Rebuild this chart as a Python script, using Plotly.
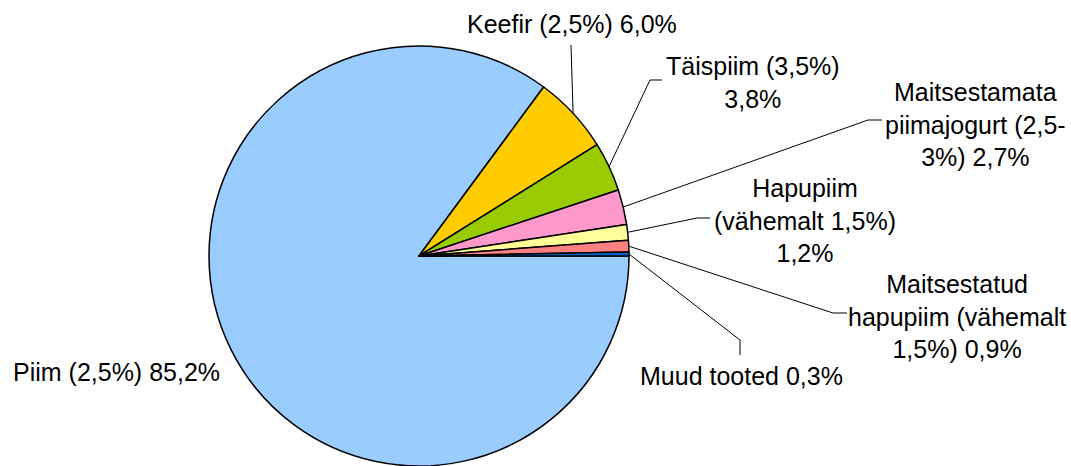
import math
import plotly.graph_objects as go

# piimatoodete jaotus (%)
names = ["Piim (2,5%)", "Keefir (2,5%)", "Täispiim (3,5%)<br>",
         "Maitsestamata<br>piimajogurt (2,5-<br>3%)", "Hapupiim<br>(vähemalt 1,5%)<br>",
         "Maitsestatud<br>hapupiim (vähemalt<br>1,5%)", "Muud tooted"]
values = [85.2, 6.0, 3.8, 2.7, 1.2, 0.9, 0.3]
colors = ["#99CCFF", "#FFCC00", "#99CC00", "#FF99CC", "#FFFF99", "#FF8080", "#0066CC"]

W, H = 1071, 466
cx, cy, r = 419, 256, 210  # pie centre / radius in pixels

# label centres and leader line bends (pixels); None = no leader
label_pos = [(116, 372), (572, 24), (753, 82), (975, 124), (805, 220), (957, 316), (741, 376)]
leader_pts = [None, [(571, 45)], [(650, 80), (662, 80)], [(868, 120), (882, 120)],
              [(697, 218), (710, 218)], [(833, 313), (847, 313)], [(740, 340), (740, 355)]]


def px(x, y):
    return x / W, 1 - y / H


def pct(v):
    return f"{v:.1f}%".replace(".", ",")


fig = go.Figure(go.Pie(
    labels=[n.replace("<br>", " ") for n in names], values=values, sort=False,
    direction="clockwise", rotation=90, textinfo="none", hoverinfo="skip",
    marker=dict(colors=colors, line=dict(color="black", width=1.5)),
    domain=dict(x=[(cx - r) / W, (cx + r) / W], y=[(H - cy - r) / H, (H - cy + r) / H]),
    showlegend=False,
))

total = sum(values)
cum = 0
shapes = []
annotations = []
for i, v in enumerate(values):
    mid = (cum + v / 2) / total
    cum += v
    theta = -2 * math.pi * mid
    ex, ey = cx + r * math.cos(theta), cy - r * math.sin(theta)
    if leader_pts[i]:
        pts = [px(ex, ey)] + [px(a, b) for a, b in leader_pts[i]]
        path = "M " + " L ".join(f"{a},{b}" for a, b in pts)
        shapes.append(dict(type="path", path=path, xref="paper", yref="paper",
                           line=dict(color="black", width=1)))
    sep = "" if names[i].endswith("<br>") else " "
    lx, ly = px(*label_pos[i])
    annotations.append(dict(text=names[i] + sep + pct(v), x=lx, y=ly, xref="paper", yref="paper",
                            xanchor="center", yanchor="middle", showarrow=False, align="center",
                            font=dict(size=25, color="black", family="Liberation Sans, Arial")))

fig.update_layout(width=W, height=H, margin=dict(l=0, r=0, t=0, b=0),
                  paper_bgcolor="white", plot_bgcolor="white",
                  shapes=shapes, annotations=annotations)

# page body has a default margin, drop it so the chart fills the window
fig.write_html("out.html", config={"displayModeBar": False},
               post_script="document.body.style.margin='0';")
